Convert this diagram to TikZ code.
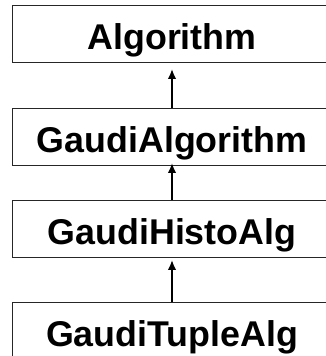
\documentclass[tikz,border=0pt]{standalone}
\usepackage{fontspec}
\setmainfont{Liberation Sans}
\usetikzlibrary{arrows.meta}
\begin{document}
\begin{tikzpicture}[x=1pt,y=1pt,
  classbox/.style={draw=black!85, line width=0.9pt, minimum width=320pt, minimum height=57pt,
    inner sep=0pt, text height=31pt, text depth=0pt, font=\fontsize{35.8}{38}\selectfont\bfseries, anchor=north},
  inherit/.style={line width=2pt, -{Latex[length=10pt,width=8.5pt]}}]
\useasboundingbox (0,0) rectangle (325,-356);
\node[classbox] (alg) at (172,-5) {Algorithm};
\node[classbox] (galg) at (172,-108) {GaudiAlgorithm};
\node[classbox] (histo) at (172,-200) {GaudiHistoAlg};
\node[classbox] (tuple) at (172,-302) {GaudiTupleAlg};
\draw[inherit, shorten >=6pt] (galg.north) -- (alg.south);
\draw[inherit, shorten >=-3pt] (histo.north) -- (galg.south);
\draw[inherit, shorten >=2pt] (tuple.north) -- (histo.south);
\end{tikzpicture}
\end{document}
